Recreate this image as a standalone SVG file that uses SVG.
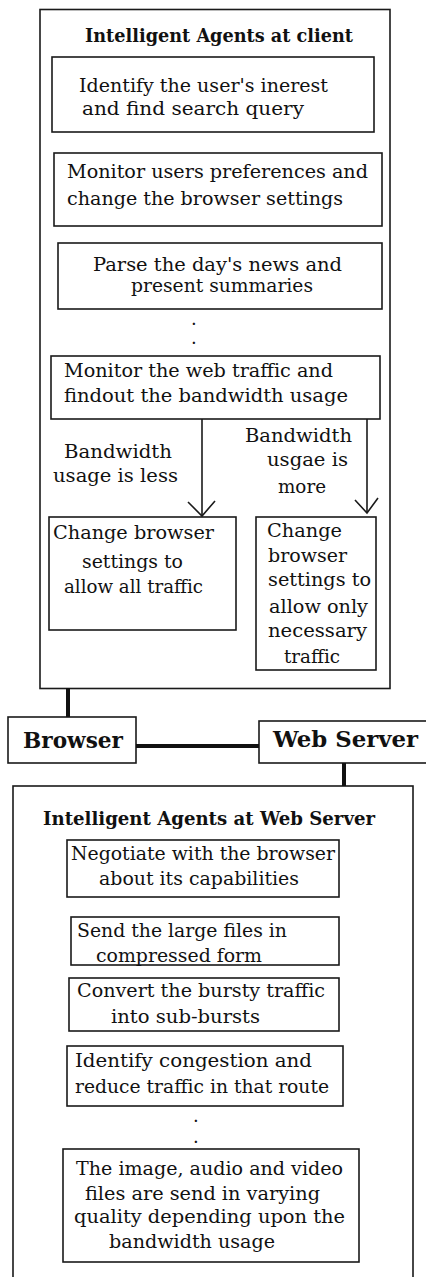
<svg xmlns="http://www.w3.org/2000/svg" width="426" height="1277" viewBox="0 0 426 1277">
<style>
.bx{fill:#fff;stroke:#1a1a1a;stroke-width:1.6}
.t{font-family:"DejaVu Serif","Liberation Serif",serif;font-size:18px;fill:#111}
.h{font-family:"DejaVu Serif","Liberation Serif",serif;font-size:18px;font-weight:bold;fill:#111}
.b{font-family:"DejaVu Serif","Liberation Serif",serif;font-size:22px;font-weight:bold;fill:#111}
.ln{stroke:#1a1a1a;stroke-width:1.6;fill:none}
.thick{stroke:#111;stroke-width:4;fill:none}
</style>
<rect width="426" height="1277" fill="#fff"/>

<g id="client-agents">
<rect class="bx" x="40" y="9.5" width="350" height="679"/>
<text class="h" x="85" y="42" textLength="268" lengthAdjust="spacingAndGlyphs">Intelligent Agents at client</text>
</g>

<g id="identify-interest">
<rect class="bx" x="52" y="57" width="322" height="75"/>
<text class="t" x="79" y="92" textLength="249" lengthAdjust="spacingAndGlyphs">Identify the user's inerest</text>
<text class="t" x="82" y="115" textLength="222" lengthAdjust="spacingAndGlyphs">and find search query</text>
</g>

<g id="monitor-preferences">
<rect class="bx" x="54" y="153" width="328" height="73"/>
<text class="t" x="67" y="178" textLength="301" lengthAdjust="spacingAndGlyphs">Monitor users preferences and</text>
<text class="t" x="67" y="205" textLength="276" lengthAdjust="spacingAndGlyphs">change the browser settings</text>
</g>

<g id="parse-news">
<rect class="bx" x="58" y="243" width="324" height="66"/>
<text class="t" x="93" y="271" textLength="249" lengthAdjust="spacingAndGlyphs">Parse the day's news and</text>
<text class="t" x="131" y="292" textLength="182" lengthAdjust="spacingAndGlyphs">present summaries</text>
</g>

<g id="client-dots">
<text class="t" x="191" y="325">.</text>
<text class="t" x="191" y="344">.</text>
</g>

<g id="monitor-traffic">
<rect class="bx" x="51" y="356" width="329" height="63"/>
<text class="t" x="64" y="377" textLength="269" lengthAdjust="spacingAndGlyphs">Monitor the web traffic and</text>
<text class="t" x="64" y="402" textLength="284" lengthAdjust="spacingAndGlyphs">findout the bandwidth usage</text>
</g>

<g id="allow-all">
<rect class="bx" x="49" y="517" width="187" height="113"/>
<text class="t" x="53" y="539" textLength="161" lengthAdjust="spacingAndGlyphs">Change browser</text>
<text class="t" x="82" y="568" textLength="101" lengthAdjust="spacingAndGlyphs">settings to</text>
<text class="t" x="64" y="593" textLength="139" lengthAdjust="spacingAndGlyphs">allow all traffic</text>
</g>

<g id="allow-necessary">
<rect class="bx" x="256" y="517" width="120" height="153"/>
<text class="t" x="267" y="537" textLength="75" lengthAdjust="spacingAndGlyphs">Change</text>
<text class="t" x="268" y="562" textLength="79" lengthAdjust="spacingAndGlyphs">browser</text>
<text class="t" x="268" y="586" textLength="103" lengthAdjust="spacingAndGlyphs">settings to</text>
<text class="t" x="269" y="613" textLength="99" lengthAdjust="spacingAndGlyphs">allow only</text>
<text class="t" x="268" y="637" textLength="99" lengthAdjust="spacingAndGlyphs">necessary</text>
<text class="t" x="284" y="663" textLength="56" lengthAdjust="spacingAndGlyphs">traffic</text>
</g>

<g id="browser">
<rect class="bx" x="8" y="717" width="128" height="46"/>
<text class="b" x="23" y="748" textLength="100" lengthAdjust="spacingAndGlyphs">Browser</text>
</g>

<g id="web-server">
<rect class="bx" x="259" y="721" width="180" height="42"/>
<text class="b" x="273" y="747" textLength="145" lengthAdjust="spacingAndGlyphs">Web Server</text>
</g>

<g id="server-agents">
<rect class="bx" x="13" y="786" width="400" height="500"/>
<text class="h" x="43" y="825" textLength="332" lengthAdjust="spacingAndGlyphs">Intelligent Agents at Web Server</text>
</g>

<g id="negotiate">
<rect class="bx" x="67" y="840" width="272" height="57"/>
<text class="t" x="71" y="860" textLength="264" lengthAdjust="spacingAndGlyphs">Negotiate with the browser</text>
<text class="t" x="99" y="885" textLength="200" lengthAdjust="spacingAndGlyphs">about its capabilities</text>
</g>

<g id="compress">
<rect class="bx" x="71" y="917" width="268" height="48"/>
<text class="t" x="77" y="937" textLength="210" lengthAdjust="spacingAndGlyphs">Send the large files in</text>
<text class="t" x="96" y="962" textLength="166" lengthAdjust="spacingAndGlyphs">compressed form</text>
</g>

<g id="sub-bursts">
<rect class="bx" x="69" y="978" width="270" height="53"/>
<text class="t" x="77" y="997" textLength="248" lengthAdjust="spacingAndGlyphs">Convert the bursty traffic</text>
<text class="t" x="111" y="1023" textLength="149" lengthAdjust="spacingAndGlyphs">into sub-bursts</text>
</g>

<g id="congestion">
<rect class="bx" x="67" y="1046" width="276" height="60"/>
<text class="t" x="75" y="1067" textLength="237" lengthAdjust="spacingAndGlyphs">Identify congestion and</text>
<text class="t" x="75" y="1093" textLength="254" lengthAdjust="spacingAndGlyphs">reduce traffic in that route</text>
</g>

<g id="server-dots">
<text class="t" x="193" y="1122">.</text>
<text class="t" x="193" y="1143">.</text>
</g>

<g id="media-quality">
<rect class="bx" x="63" y="1149" width="296" height="113"/>
<text class="t" x="76" y="1175" textLength="267" lengthAdjust="spacingAndGlyphs">The image, audio and video</text>
<text class="t" x="85" y="1200" textLength="235" lengthAdjust="spacingAndGlyphs">files are send in varying</text>
<text class="t" x="74" y="1223" textLength="271" lengthAdjust="spacingAndGlyphs">quality depending upon the</text>
<text class="t" x="109" y="1248" textLength="166" lengthAdjust="spacingAndGlyphs">bandwidth usage</text>
</g>

<g id="connectors">
<line class="ln" x1="202" y1="419" x2="202" y2="516"/>
<path class="ln" d="M188 502 L202 516 L215 501"/>
<line class="ln" x1="367" y1="419" x2="367" y2="513"/>
<path class="ln" d="M355 500 L367 513 L378 498"/>
<text class="t" x="64" y="458" textLength="108" lengthAdjust="spacingAndGlyphs">Bandwidth</text>
<text class="t" x="53" y="482" textLength="125" lengthAdjust="spacingAndGlyphs">usage is less</text>
<text class="t" x="245" y="442" textLength="107" lengthAdjust="spacingAndGlyphs">Bandwidth</text>
<text class="t" x="267" y="466" textLength="81" lengthAdjust="spacingAndGlyphs">usgae is</text>
<text class="t" x="278" y="493" textLength="48" lengthAdjust="spacingAndGlyphs">more</text>
<line class="thick" x1="68" y1="688" x2="68" y2="717"/>
<line class="thick" x1="136" y1="746" x2="259" y2="746"/>
<line class="thick" x1="344" y1="763" x2="344" y2="786"/>
</g>
</svg>
